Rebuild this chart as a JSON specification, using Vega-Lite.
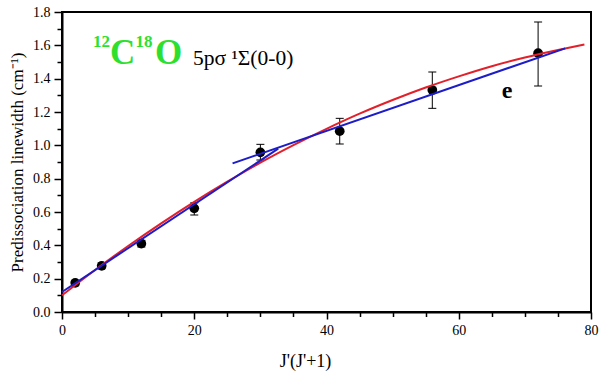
{
  "$schema": "https://vega.github.io/schema/vega-lite/v6.json",
  "width": 529,
  "height": 300,
  "autosize": {"type": "none"},
  "padding": {"left": 62, "top": 12, "right": 9, "bottom": 65},
  "background": "white",
  "config": {
    "view": {"stroke": "black", "strokeWidth": 2},
    "font": "Liberation Serif",
    "axis": {"grid": false, "domainColor": "black", "tickColor": "black", "labelColor": "black", "titleColor": "black", "labelFont": "Liberation Serif", "titleFont": "Liberation Serif", "titleFontWeight": "normal"}
  },
  "datasets": {
    "points": [
      {"x": 2, "y": 0.175, "lo": 0.16, "hi": 0.19},
      {"x": 6, "y": 0.277, "lo": 0.26, "hi": 0.295},
      {"x": 12, "y": 0.41, "lo": 0.39, "hi": 0.43},
      {"x": 20, "y": 0.622, "lo": 0.582, "hi": 0.655},
      {"x": 30, "y": 0.958, "lo": 0.912, "hi": 1.006},
      {"x": 42, "y": 1.085, "lo": 1.008, "hi": 1.162},
      {"x": 56, "y": 1.332, "lo": 1.222, "hi": 1.44},
      {"x": 72, "y": 1.553, "lo": 1.356, "hi": 1.74}
    ],
    "fit": [
      {"x": 0, "y": 0.10}, {"x": 5, "y": 0.252}, {"x": 10, "y": 0.396}, {"x": 15, "y": 0.532},
      {"x": 20, "y": 0.661}, {"x": 25, "y": 0.782}, {"x": 30, "y": 0.896}, {"x": 35, "y": 1.001},
      {"x": 40, "y": 1.099}, {"x": 45, "y": 1.19}, {"x": 50, "y": 1.272}, {"x": 55, "y": 1.347},
      {"x": 60, "y": 1.414}, {"x": 65, "y": 1.475}, {"x": 70, "y": 1.527}, {"x": 75, "y": 1.572},
      {"x": 79, "y": 1.605}
    ],
    "lin1": [{"x": 0, "y": 0.12}, {"x": 32.7, "y": 0.98}],
    "lin2": [{"x": 25.8, "y": 0.892}, {"x": 76.1, "y": 1.582}]
  },
  "resolve": {"axis": {"x": "independent", "y": "independent"}},
  "layer": [
    {
      "data": {"name": "points"},
      "mark": {"type": "point", "opacity": 0},
      "encoding": {
        "x": {"field": "x", "type": "quantitative", "scale": {"domain": [0, 80], "nice": false},
          "axis": {"orient": "bottom", "values": [5, 10, 15, 25, 30, 35, 45, 50, 55, 65, 70, 75], "labels": false, "title": null, "domain": false, "tickSize": 4.5, "tickWidth": 1.5}},
        "y": {"field": "y", "type": "quantitative", "scale": {"domain": [0, 1.8], "nice": false, "zero": false},
          "axis": {"orient": "left", "values": [0.1, 0.3, 0.5, 0.7, 0.9, 1.1, 1.3, 1.5, 1.7], "labels": false, "title": null, "domain": false, "tickSize": 5, "tickWidth": 1.5}}
      }
    },
    {
      "data": {"name": "points"},
      "mark": {"type": "rule", "color": "black", "strokeWidth": 1, "opacity": 1},
      "encoding": {
        "x": {"field": "x", "type": "quantitative", "scale": {"domain": [0, 80], "nice": false},
          "axis": {"orient": "bottom", "values": [0, 20, 40, 60, 80], "title": "J'(J'+1)", "tickSize": 7, "tickWidth": 1.5, "domainWidth": 2, "labelFontSize": 14, "labelPadding": 4, "labelFlush": false, "titleFontSize": 18, "titleX": 243, "titleY": 54, "titleAlign": "center", "titleBaseline": "alphabetic"}},
        "y": {"field": "lo", "type": "quantitative", "scale": {"domain": [0, 1.8], "nice": false, "zero": false},
          "axis": {"orient": "left", "values": [0, 0.2, 0.4, 0.6, 0.8, 1.0, 1.2, 1.4, 1.6, 1.8], "format": ".1f", "title": "Predissociation linewidth (cm⁻¹)", "tickSize": 8, "tickWidth": 1.5, "domainWidth": 2, "labelFontSize": 14, "labelPadding": 4, "labelFlush": false, "titleFontSize": 17, "titlePadding": 6}},
        "y2": {"field": "hi"}
      }
    },
    {
      "data": {"name": "points"},
      "mark": {"type": "tick", "orient": "horizontal", "color": "black", "size": 8, "thickness": 1, "opacity": 1},
      "encoding": {
        "x": {"field": "x", "type": "quantitative", "scale": {"domain": [0, 80], "nice": false}, "axis": null},
        "y": {"field": "hi", "type": "quantitative", "scale": {"domain": [0, 1.8], "nice": false, "zero": false}, "axis": null}
      }
    },
    {
      "data": {"name": "points"},
      "mark": {"type": "tick", "orient": "horizontal", "color": "black", "size": 8, "thickness": 1, "opacity": 1},
      "encoding": {
        "x": {"field": "x", "type": "quantitative", "scale": {"domain": [0, 80], "nice": false}, "axis": null},
        "y": {"field": "lo", "type": "quantitative", "scale": {"domain": [0, 1.8], "nice": false, "zero": false}, "axis": null}
      }
    },
    {
      "data": {"name": "points"},
      "mark": {"type": "circle", "color": "black", "opacity": 1, "size": 95},
      "encoding": {
        "x": {"field": "x", "type": "quantitative", "scale": {"domain": [0, 80], "nice": false}, "axis": null},
        "y": {"field": "y", "type": "quantitative", "scale": {"domain": [0, 1.8], "nice": false, "zero": false}, "axis": null}
      }
    },
    {
      "data": {"name": "fit"},
      "mark": {"type": "line", "color": "#e3202a", "strokeWidth": 2, "interpolate": "monotone"},
      "encoding": {
        "x": {"field": "x", "type": "quantitative", "scale": {"domain": [0, 80], "nice": false}, "axis": null},
        "y": {"field": "y", "type": "quantitative", "scale": {"domain": [0, 1.8], "nice": false, "zero": false}, "axis": null}
      }
    },
    {
      "data": {"name": "lin1"},
      "mark": {"type": "line", "color": "#1c1cc8", "strokeWidth": 2},
      "encoding": {
        "x": {"field": "x", "type": "quantitative", "scale": {"domain": [0, 80], "nice": false}, "axis": null},
        "y": {"field": "y", "type": "quantitative", "scale": {"domain": [0, 1.8], "nice": false, "zero": false}, "axis": null}
      }
    },
    {
      "data": {"name": "lin2"},
      "mark": {"type": "line", "color": "#1c1cc8", "strokeWidth": 2},
      "encoding": {
        "x": {"field": "x", "type": "quantitative", "scale": {"domain": [0, 80], "nice": false}, "axis": null},
        "y": {"field": "y", "type": "quantitative", "scale": {"domain": [0, 1.8], "nice": false, "zero": false}, "axis": null}
      }
    },
    {
      "data": {"values": [{"x": 4.69, "y": 1.59, "label": "12"}, {"x": 11.1, "y": 1.59, "label": "18"}]},
      "mark": {"type": "text", "color": "#2ee02e", "fontSize": 17, "fontWeight": "bold", "align": "left", "baseline": "alphabetic"},
      "encoding": {
        "x": {"field": "x", "type": "quantitative", "scale": {"domain": [0, 80], "nice": false}, "axis": null},
        "y": {"field": "y", "type": "quantitative", "scale": {"domain": [0, 1.8], "nice": false, "zero": false}, "axis": null},
        "text": {"field": "label"}
      }
    },
    {
      "data": {"values": [{"x": 7.26, "y": 1.488, "label": "C"}, {"x": 14.06, "y": 1.488, "label": "O"}]},
      "mark": {"type": "text", "color": "#2ee02e", "fontSize": 35, "fontWeight": "bold", "align": "left", "baseline": "alphabetic"},
      "encoding": {
        "x": {"field": "x", "type": "quantitative", "scale": {"domain": [0, 80], "nice": false}, "axis": null},
        "y": {"field": "y", "type": "quantitative", "scale": {"domain": [0, 1.8], "nice": false, "zero": false}, "axis": null},
        "text": {"field": "label"}
      }
    },
    {
      "data": {"values": [{"x": 19.8, "y": 1.48, "label": "5pσ ¹Σ(0-0)"}]},
      "mark": {"type": "text", "color": "black", "fontSize": 21.5, "align": "left", "baseline": "alphabetic"},
      "encoding": {
        "x": {"field": "x", "type": "quantitative", "scale": {"domain": [0, 80], "nice": false}, "axis": null},
        "y": {"field": "y", "type": "quantitative", "scale": {"domain": [0, 1.8], "nice": false, "zero": false}, "axis": null},
        "text": {"field": "label"}
      }
    },
    {
      "data": {"values": [{"x": 66.5, "y": 1.284, "label": "e"}]},
      "mark": {"type": "text", "color": "black", "fontSize": 24, "fontWeight": "bold", "align": "left", "baseline": "alphabetic"},
      "encoding": {
        "x": {"field": "x", "type": "quantitative", "scale": {"domain": [0, 80], "nice": false}, "axis": null},
        "y": {"field": "y", "type": "quantitative", "scale": {"domain": [0, 1.8], "nice": false, "zero": false}, "axis": null},
        "text": {"field": "label"}
      }
    }
  ]
}
